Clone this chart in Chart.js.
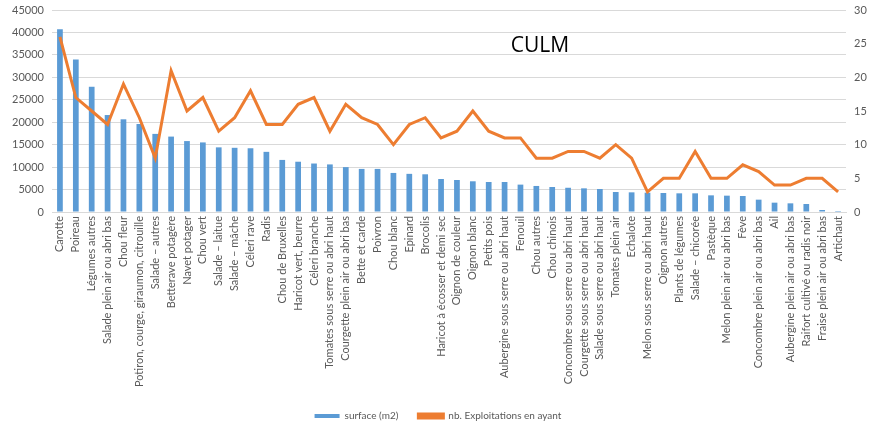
<!DOCTYPE html>
<html>
<head>
<meta charset="utf-8">
<script src="https://cdn.jsdelivr.net/npm/chart.js@4"></script>
<style>
  html, body { margin: 0; padding: 0; background: #fff; }
  #wrap { width: 876px; height: 429px; }
</style>
</head>
<body>
<div id="wrap"><canvas id="culm"></canvas></div>
<script>
const legumes = [
  'Carotte', 'Poireau', 'Légumes autres', 'Salade plein air ou abri bas', 'Chou fleur',
  'Potiron, courge, giraumon, citrouille', 'Salade – autres', 'Betterave potagère', 'Navet potager', 'Chou vert',
  'Salade – laitue', 'Salade – mâche', 'Céleri rave', 'Radis', 'Chou de Bruxelles',
  'Haricot vert, beurre', 'Céleri branche', 'Tomates sous serre ou abri haut', 'Courgette plein air ou abri bas', 'Bette et carde',
  'Poivron', 'Chou blanc', 'Epinard', 'Brocolis', 'Haricot à écosser et demi sec',
  'Oignon de couleur', 'Oignon blanc', 'Petits pois', 'Aubergine sous serre ou abri haut', 'Fenouil',
  'Chou autres', 'Chou chinois', 'Concombre sous serre ou abri haut', 'Courgette sous serre ou abri haut', 'Salade sous serre ou abri haut',
  'Tomates plein air', 'Echalote', 'Melon sous serre ou abri haut', 'Oignon autres', 'Plants de légumes',
  'Salade – chicorée', 'Pastèque', 'Melon plein air ou abri bas', 'Fève', 'Concombre plein air ou abri bas',
  'Ail', 'Aubergine plein air ou abri bas', 'Raifort cultivé ou radis noir', 'Fraise plein air ou abri bas', 'Artichaut'
];

const surface = [
  40700, 34000, 27900, 21600, 20650, 19600, 17400, 16800, 15800, 15500,
  14400, 14300, 14200, 13400, 11600, 11200, 10800, 10600, 10000, 9600,
  9600, 8700, 8500, 8400, 7350, 7130, 6840, 6690, 6690, 6100,
  5800, 5570, 5400, 5270, 5130, 4460, 4380, 4310, 4230, 4160,
  4160, 3710, 3640, 3570, 2750, 2080, 1930, 1780, 450, 220
];

const exploitations = [
  26, 17, 15, 13, 19, 14, 8, 21, 15, 17,
  12, 14, 18, 13, 13, 16, 17, 12, 16, 14,
  13, 10, 13, 14, 11, 12, 15, 12, 11, 11,
  8, 8, 9, 9, 8, 10, 8, 3, 5, 5,
  9, 5, 5, 7, 6, 4, 4, 5, 5, 3
];

const gris = '#595959';
const police = 'Lato, "Open Sans", sans-serif';

// titre posé dans la zone de tracé
const titreCulm = {
  id: 'titreCulm',
  afterDraw(chart) {
    const ctx = chart.ctx;
    ctx.save();
    ctx.font = '21px "Open Sans", sans-serif';
    ctx.fillStyle = '#000';
    ctx.textAlign = 'center';
    ctx.textBaseline = 'middle';
    ctx.fillText('CULM', 540, 46);
    ctx.restore();
  }
};

// les axes verticaux ne réservent pas de marge haute/basse
function sansMarge(scale, largeur) {
  scale.width = largeur;
  scale.paddingTop = 0;
  scale.paddingBottom = 0;
}

new Chart(document.getElementById('culm'), {
  data: {
    labels: legumes,
    datasets: [
      {
        type: 'line',
        label: 'nb. Exploitations en ayant',
        data: exploitations,
        yAxisID: 'y1',
        borderColor: '#ed7d31',
        backgroundColor: '#ed7d31',
        borderWidth: 3,
        pointRadius: 0,
        tension: 0,
        order: 0
      },
      {
        type: 'bar',
        label: 'surface (m2)',
        data: surface,
        yAxisID: 'y',
        backgroundColor: '#5b9bd5',
        categoryPercentage: 1,
        barPercentage: 0.36,
        order: 1
      }
    ]
  },
  options: {
    responsive: true,
    maintainAspectRatio: false,
    animation: false,
    layout: { padding: { left: 4, right: 4, top: 10, bottom: -2 } },
    plugins: {
      legend: {
        position: 'bottom',
        reverse: true,
        labels: {
          color: gris,
          font: { family: police, size: 10 },
          boxWidth: 25,
          boxHeight: 4,
          padding: 20
        }
      },
      tooltip: { enabled: false }
    },
    scales: {
      x: {
        grid: { display: false, drawTicks: false },
        border: { color: '#d9d9d9' },
        ticks: {
          color: gris,
          font: { family: police, size: 11 },
          minRotation: 90,
          maxRotation: 90,
          autoSkip: false,
          padding: 4
        },
        afterFit(scale) { scale.height = 179; }
      },
      y: {
        position: 'left',
        min: 0,
        max: 45000,
        ticks: {
          stepSize: 5000,
          color: gris,
          font: { family: police, size: 11 },
          padding: 8,
          callback: v => String(v)
        },
        grid: { color: '#d9d9d9', drawTicks: false },
        border: { display: false },
        afterFit(scale) { sansMarge(scale, 48); }
      },
      y1: {
        position: 'right',
        min: 0,
        max: 30,
        ticks: {
          stepSize: 5,
          color: gris,
          font: { family: police, size: 11 },
          padding: 8
        },
        grid: { display: false, drawTicks: false },
        border: { display: false },
        afterFit(scale) { sansMarge(scale, 26); }
      }
    }
  },
  plugins: [titreCulm]
});
</script>
</body>
</html>
